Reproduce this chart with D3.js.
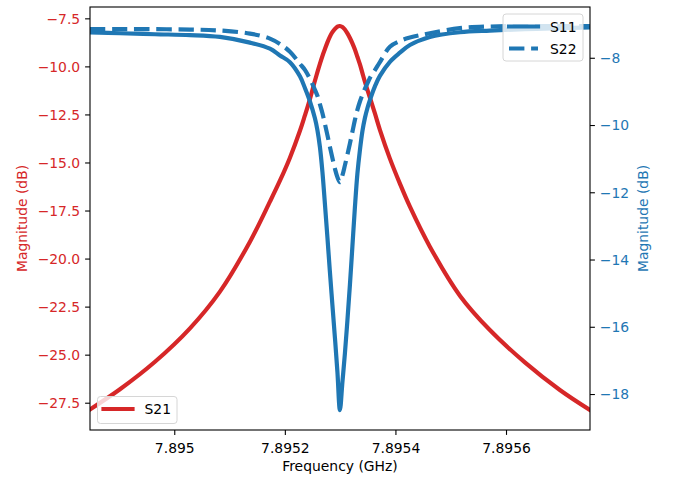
<!DOCTYPE html>
<html>
<head>
<meta charset="utf-8">
<script src="https://cdn.jsdelivr.net/npm/d3@7"></script>
<style>
  body { margin: 0; background: #fff; }
  text { font-family: "DejaVu Sans", sans-serif; }
</style>
</head>
<body>
<div id="chart"></div>
<script>
// frequency samples (GHz)
const freqGHz = [
  7.8948475, 7.8949018, 7.8949651, 7.8950284, 7.8950826, 7.8951369, 7.8951730,
  7.8951911, 7.8952092, 7.8952273, 7.8952363, 7.8952454, 7.8952544, 7.8952589,
  7.8952634, 7.8952680, 7.8952725, 7.8952770, 7.8952815, 7.8952860, 7.8952906,
  7.8952951, 7.8952996, 7.8953041, 7.8953086, 7.8953132, 7.8953177, 7.8953222,
  7.8953267, 7.8953312, 7.8953358, 7.8953403, 7.8953448, 7.8953493, 7.8953538,
  7.8953629, 7.8953719, 7.8953900, 7.8954081, 7.8954262, 7.8954623, 7.8955166,
  7.8955708, 7.8956341, 7.8956974, 7.8957517
];

const s21 = [
  -27.85, -26.8, -25.37, -23.63, -21.72, -19.12, -17.04,
  -15.95, -14.75, -13.35, -12.55, -11.7, -10.75, -10.3,
  -9.87, -9.46, -9.1, -8.75, -8.45, -8.22, -8.05,
  -7.93, -7.9, -7.95, -8.08, -8.28, -8.52, -8.8,
  -9.12, -9.5, -9.9, -10.35, -10.8, -11.22, -11.62,
  -12.45, -13.3, -14.8, -16.1, -17.3, -19.38, -21.93,
  -23.72, -25.4, -26.84, -27.88
];

const s11 = [
  -7.245, -7.27, -7.30, -7.325, -7.38, -7.55, -7.73,
  -7.93, -8.13, -8.55, -8.9, -9.3, -9.8, -10.15,
  -10.65, -11.4, -12.35, -13.34, -14.37, -15.35, -16.33,
  -17.35, -18.48, -17.65, -16.8, -15.8, -14.75, -13.6,
  -12.45, -11.45, -10.74, -10.18, -9.79, -9.5, -9.26,
  -8.85, -8.54, -8.12, -7.85, -7.62, -7.38, -7.24,
  -7.19, -7.15, -7.12, -7.10
];

const s22 = [
  -7.15, -7.15, -7.15, -7.16, -7.19, -7.28, -7.43,
  -7.59, -7.82, -8.18, -8.36, -8.63, -8.95, -9.13,
  -9.38, -9.65, -9.97, -10.3, -10.65, -10.98, -11.3,
  -11.55, -11.7, -11.5, -11.2, -10.88, -10.55, -10.2,
  -9.85, -9.55, -9.3, -9.1, -8.92, -8.76, -8.6,
  -8.37, -8.13, -7.67, -7.50, -7.40, -7.27, -7.12,
  -7.07, -7.06, -7.06, -7.06
];

const xTicks = [7.895, 7.8952, 7.8954, 7.8956];
const xTickLabels = ["7.895", "7.8952", "7.8954", "7.8956"];
const leftTicks = [-27.5, -25, -22.5, -20, -17.5, -15, -12.5, -10, -7.5];
const leftTickLabels = ["−27.5", "−25.0", "−22.5", "−20.0", "−17.5", "−15.0", "−12.5", "−10.0", "−7.5"];
const rightTicks = [-18, -16, -14, -12, -10, -8];
const rightTickLabels = ["−18", "−16", "−14", "−12", "−10", "−8"];

const xLimits = [7.8948476, 7.8957519];
const leftLimits = [-28.92, -6.91];
const rightLimits = [-19.07, -6.49];

const red = "#d62728";
const blue = "#1f77b4";
const fs = 13.9;

const width = 677, height = 479;
const plot = {left: 90, right: 590, top: 7, bottom: 430};

const svg = d3.select("#chart")
  .append("svg")
  .attr("width", width)
  .attr("height", height);

svg.append("rect").attr("width", width).attr("height", height).attr("fill", "#fff");

const x = d3.scaleLinear().domain(xLimits).range([plot.left, plot.right]);
const yL = d3.scaleLinear().domain(leftLimits).range([plot.bottom, plot.top]);
const yR = d3.scaleLinear().domain(rightLimits).range([plot.bottom, plot.top]);

svg.append("clipPath").attr("id", "clip")
  .append("rect")
  .attr("x", plot.left).attr("y", plot.top)
  .attr("width", plot.right - plot.left)
  .attr("height", plot.bottom - plot.top);

const rows = freqGHz.map((f, i) => ({f: f, s21: s21[i], s11: s11[i], s22: s22[i]}));

function lineFor(key, scale) {
  return d3.line()
    .x(d => x(d.f))
    .y(d => scale(d[key]))
    .curve(d3.curveCatmullRom.alpha(0.5));
}

const g = svg.append("g").attr("clip-path", "url(#clip)");

// left axis series
g.append("path")
  .datum(rows)
  .attr("d", lineFor("s21", yL))
  .attr("fill", "none")
  .attr("stroke", red)
  .attr("stroke-width", 4.2)
  .attr("stroke-linecap", "square")
  .attr("stroke-linejoin", "round");

function legendBox(bx, by, bw, bh, items) {
  const lg = svg.append("g");
  lg.append("rect")
    .attr("x", bx).attr("y", by)
    .attr("width", bw).attr("height", bh)
    .attr("rx", 3)
    .attr("fill", "#fff").attr("fill-opacity", 0.8)
    .attr("stroke", "#d6d6d6").attr("stroke-width", 1);
  items.forEach((it, i) => {
    const cy = by + 12.5 + i * 22;
    lg.append("line")
      .attr("x1", bx + 6).attr("x2", bx + 35)
      .attr("y1", cy).attr("y2", cy)
      .attr("stroke", it.color)
      .attr("stroke-width", 4.2)
      .attr("stroke-linecap", it.dash ? "butt" : "square")
      .attr("stroke-dasharray", it.dash ? "15.4,6.7" : null);
    lg.append("text")
      .attr("x", bx + 47).attr("y", cy + 5)
      .attr("font-size", fs)
      .attr("fill", "#000")
      .text(it.label);
  });
}

legendBox(97.5, 396.5, 79.5, 27, [{label: "S21", color: red}]);

// right axis series
g.append("path")
  .datum(rows)
  .attr("d", lineFor("s11", yR))
  .attr("fill", "none")
  .attr("stroke", blue)
  .attr("stroke-width", 4.2)
  .attr("stroke-linecap", "square")
  .attr("stroke-linejoin", "round");

g.append("path")
  .datum(rows)
  .attr("d", lineFor("s22", yR))
  .attr("fill", "none")
  .attr("stroke", blue)
  .attr("stroke-width", 4.2)
  .attr("stroke-dasharray", "15.4,6.7")
  .attr("stroke-linejoin", "round");

legendBox(503, 14, 80, 47, [
  {label: "S11", color: blue},
  {label: "S22", color: blue, dash: true}
]);

// axes
const xAxis = svg.append("g")
  .attr("transform", `translate(0,${plot.bottom})`)
  .call(d3.axisBottom(x).tickValues(xTicks).tickFormat((d, i) => xTickLabels[i]).tickSize(4.9).tickSizeOuter(0));
xAxis.select(".domain").remove();
xAxis.selectAll("line").attr("stroke", "#000").attr("stroke-width", 1.1);
xAxis.selectAll("text")
  .attr("y", 22.6).attr("dy", null)
  .attr("font-size", fs).attr("font-family", "DejaVu Sans").attr("fill", "#000");

const leftAxis = svg.append("g")
  .attr("transform", `translate(${plot.left},0)`)
  .call(d3.axisLeft(yL).tickValues(leftTicks).tickFormat((d, i) => leftTickLabels[i]).tickSize(4.9).tickPadding(4.9).tickSizeOuter(0));
leftAxis.select(".domain").remove();
leftAxis.selectAll("line").attr("stroke", "#000").attr("stroke-width", 1.1);
leftAxis.selectAll("text")
  .attr("dy", "0.34em")
  .attr("font-size", fs).attr("font-family", "DejaVu Sans").attr("fill", red);

const rightAxis = svg.append("g")
  .attr("transform", `translate(${plot.right},0)`)
  .call(d3.axisRight(yR).tickValues(rightTicks).tickFormat((d, i) => rightTickLabels[i]).tickSize(4.9).tickPadding(4.9).tickSizeOuter(0));
rightAxis.select(".domain").remove();
rightAxis.selectAll("line").attr("stroke", "#000").attr("stroke-width", 1.1);
rightAxis.selectAll("text")
  .attr("dy", "0.34em")
  .attr("font-size", fs).attr("font-family", "DejaVu Sans").attr("fill", blue);

// spines
svg.append("rect")
  .attr("x", plot.left).attr("y", plot.top)
  .attr("width", plot.right - plot.left)
  .attr("height", plot.bottom - plot.top)
  .attr("fill", "none")
  .attr("stroke", "#000")
  .attr("stroke-width", 1.1);

// axis labels
svg.append("text")
  .attr("x", (plot.left + plot.right) / 2).attr("y", 470.5)
  .attr("text-anchor", "middle")
  .attr("font-size", fs)
  .text("Frequency (GHz)");

svg.append("text")
  .attr("transform", `translate(26.5,${(plot.top + plot.bottom) / 2}) rotate(-90)`)
  .attr("text-anchor", "middle")
  .attr("font-size", fs)
  .attr("fill", red)
  .text("Magnitude (dB)");

svg.append("text")
  .attr("transform", `translate(648,${(plot.top + plot.bottom) / 2}) rotate(-90)`)
  .attr("text-anchor", "middle")
  .attr("font-size", fs)
  .attr("fill", blue)
  .text("Magnitude (dB)");
</script>
</body>
</html>
